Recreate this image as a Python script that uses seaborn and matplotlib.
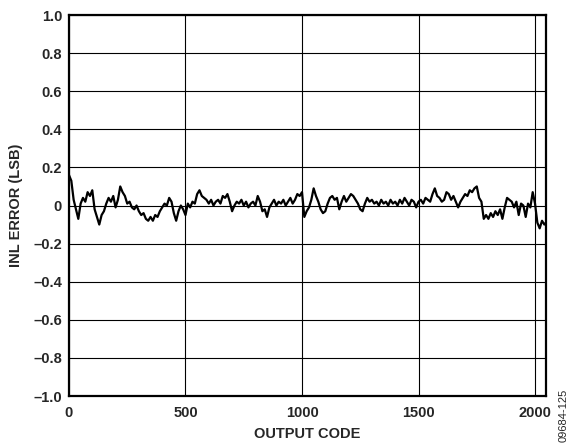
import seaborn as sns
import matplotlib.pyplot as plt
import pandas as pd

# output codes sampled every 10 codes, plus the last code
codes = list(range(0, 2041, 10)) + [2047]

# INL error (LSB)
inl = [
    0.16, 0.13, 0.03, -0.02, -0.07, 0.01, 0.04, 0.02, 0.07, 0.05,
    0.08, -0.02, -0.06, -0.10, -0.05, -0.03, 0.01, 0.04, 0.02, 0.05,
    -0.01, 0.03, 0.10, 0.07, 0.05, 0.01, 0.02, -0.01, -0.02, 0.00,
    -0.03, -0.05, -0.04, -0.07, -0.08, -0.06, -0.08, -0.05, -0.06, -0.03,
    -0.01, 0.01, 0.00, 0.04, 0.02, -0.04, -0.08, -0.03, 0.00, -0.02,
    -0.05, 0.01, -0.01, 0.02, 0.01, 0.06, 0.08, 0.05, 0.04, 0.03,
    0.01, 0.03, 0.00, 0.02, 0.03, 0.01, 0.05, 0.04, 0.06, 0.02,
    -0.03, 0.00, 0.02, 0.01, 0.03, 0.00, 0.02, -0.01, 0.01, 0.02,
    0.00, 0.05, 0.02, -0.03, -0.02, -0.06, -0.01, 0.01, 0.03, 0.00,
    0.02, 0.01, 0.03, 0.00, 0.02, 0.04, 0.01, 0.03, 0.06, 0.05,
    0.07, -0.06, -0.03, -0.01, 0.03, 0.09, 0.05, 0.02, -0.02, -0.04,
    -0.03, 0.01, 0.04, 0.05, 0.03, 0.04, -0.02, 0.02, 0.05, 0.02,
    0.04, 0.06, 0.05, 0.03, 0.01, -0.02, -0.03, 0.01, 0.04, 0.02,
    0.03, 0.01, 0.02, 0.00, 0.03, 0.01, 0.02, 0.00, 0.03, 0.01,
    0.02, 0.00, 0.03, 0.01, 0.04, 0.02, 0.00, 0.03, 0.02, -0.01,
    0.02, 0.03, 0.01, 0.04, 0.03, 0.02, 0.06, 0.09, 0.05, 0.04,
    0.02, 0.03, 0.07, 0.06, 0.03, 0.05, 0.02, -0.01, 0.02, 0.04,
    0.06, 0.05, 0.08, 0.07, 0.09, 0.10, 0.04, 0.02, -0.07, -0.05,
    -0.07, -0.04, -0.06, -0.03, -0.05, -0.02, -0.07, -0.01, 0.04, 0.03,
    0.02, -0.01, 0.02, -0.05, 0.01, 0.00, -0.06, 0.01, -0.01, 0.07,
    0.01, -0.09, -0.12, -0.08, -0.10, -0.09,
]

xticks = [0, 500, 1000, 1500, 2000]
yticks = [-1.0, -0.8, -0.6, -0.4, -0.2, 0, 0.2, 0.4, 0.6, 0.8, 1.0]
ylabels = ['\u20131.0', '\u20130.8', '\u20130.6', '\u20130.4', '\u20130.2', '0',
           '0.2', '0.4', '0.6', '0.8', '1.0']

df = pd.DataFrame({'code': codes, 'inl': inl})

sns.set_style("white")
plt.rcParams['font.family'] = ['Liberation Sans', 'DejaVu Sans']

fig = plt.figure(figsize=(5.72, 4.44), dpi=100)
ax = fig.add_axes([0.1206, 0.1081, 0.8339, 0.8581])

sns.lineplot(data=df, x='code', y='inl', color='black', linewidth=1.6, ax=ax)

ax.set_xlim(0, 2047)
ax.set_ylim(-1.0, 1.0)
ax.set_xticks(xticks)
ax.set_xticklabels([str(t) for t in xticks], fontsize=10.5, fontweight='bold')
ax.set_yticks(yticks)
ax.set_yticklabels(ylabels, fontsize=10.5, fontweight='bold')
ax.tick_params(axis='x', length=0, pad=7)
ax.tick_params(axis='y', length=0, pad=5)
ax.grid(True, color='black', linewidth=0.8)
ax.set_axisbelow(True)
for s in ax.spines.values():
    s.set_color('black')
    s.set_linewidth(1.6)

ax.set_xlabel('OUTPUT CODE', fontsize=10.5, fontweight='bold', labelpad=5)
ax.set_ylabel('INL ERROR (LSB)', fontsize=10.5, fontweight='bold', labelpad=7)

fig.text(0.986, 0.005, '09684-125', rotation=90, fontsize=8,
         ha='center', va='bottom')

fig.savefig('out.png', dpi=100)
